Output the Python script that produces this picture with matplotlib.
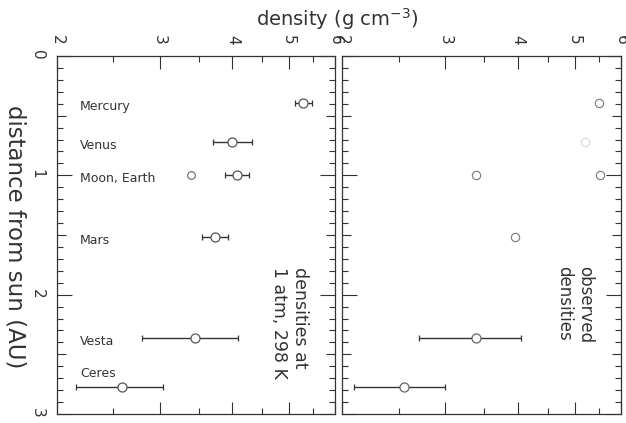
import numpy as np
import matplotlib
matplotlib.use("Agg")
import matplotlib.pyplot as plt
from matplotlib.ticker import FixedLocator, NullFormatter, FuncFormatter

# distance from sun (AU)
planetas = ['Mercury', 'Venus', 'Moon, Earth', 'Mars', 'Vesta', 'Ceres']
distancia = [0.39, 0.72, 1.00, 1.52, 2.36, 2.77]

# densidades a 1 atm, 298 K (panel izquierdo)
dens_298 = [5.28, 3.99, 4.07, 3.73, 3.45, 2.59]
dens_298_min = [5.12, 3.71, 3.88, 3.55, 2.80, 2.16]
dens_298_max = [5.48, 4.32, 4.27, 3.93, 4.09, 3.04]
luna_298 = 3.40

# densidades observadas (panel derecho)
dist_obs = [0.39, 1.00, 1.52]
dens_obs = [5.50, 5.52, 3.95]
venus_obs = 5.21
luna_obs = 3.39
dist_ast = [2.36, 2.77]
dens_ast = [3.39, 2.55]
dens_ast_min = [2.71, 2.10]
dens_ast_max = [4.05, 3.00]

gris = '#333333'
plt.rcParams['font.family'] = ['DejaVu Sans']
plt.rcParams['text.color'] = gris

fig = plt.figure(figsize=(6.26, 4.23), dpi=100)
ax1 = fig.add_axes([57/626, 9/423, 278/626, 358/423])
ax2 = fig.add_axes([342/626, 9/423, 279/626, 358/423])


def formato(ax, etiquetas_y):
    ax.set_xscale('log')
    ax.set_xlim(2, 6)
    ax.set_ylim(3, 0)
    ax.xaxis.set_major_locator(FixedLocator([2, 3, 4, 5, 6]))
    ax.xaxis.set_minor_locator(FixedLocator([2.5, 3.5, 4.5, 5.5]))
    ax.xaxis.set_major_formatter(FuncFormatter(lambda v, p: '%d' % round(v)))
    ax.xaxis.set_minor_formatter(NullFormatter())
    ax.yaxis.set_major_locator(FixedLocator(np.arange(0, 3.01, 0.5)))
    ax.yaxis.set_minor_locator(FixedLocator(np.arange(0, 3.01, 0.1)))
    ax.yaxis.set_major_formatter(FuncFormatter(
        lambda v, p: ('%d' % round(v)) if abs(v - round(v)) < 1e-6 else ''))
    ax.tick_params(which='both', direction='in', top=True, bottom=True,
                   left=True, right=True, labeltop=True, labelbottom=False,
                   labelleft=etiquetas_y, labelright=False, color=gris,
                   width=0.8, labelcolor=gris)
    ax.tick_params(axis='x', which='major', length=9, pad=8,
                   labelsize=11, labelrotation=-90)
    ax.tick_params(axis='x', which='minor', length=4.5)
    ax.tick_params(axis='y', which='major', length=11, pad=9,
                   labelsize=11, labelrotation=-90)
    ax.tick_params(axis='y', which='minor', length=4)
    for t, loc in zip(ax.yaxis.get_major_ticks(), ax.yaxis.get_majorticklocs()):
        if abs(loc - round(loc)) > 1e-6:
            t.tick1line.set_markersize(6.5)
            t.tick2line.set_markersize(6.5)
    for s in ax.spines.values():
        s.set_color(gris)
        s.set_linewidth(0.9)


formato(ax1, True)
formato(ax2, False)

# panel izquierdo
err_bajo = np.array(dens_298) - np.array(dens_298_min)
err_alto = np.array(dens_298_max) - np.array(dens_298)
ax1.errorbar(dens_298, distancia, xerr=[err_bajo, err_alto], fmt='o',
             ms=6.5, mfc='white', mec='#555555', mew=0.9, ecolor=gris,
             elinewidth=1.0, capsize=2.3, capthick=1.0, zorder=3)
ax1.plot([luna_298], [distancia[2]], 'o', ms=5.5, mfc='white', mec='#666666', mew=0.8)
for nombre, d in zip(planetas, distancia):
    dy = -0.11 if nombre == 'Ceres' else 0.03
    ax1.text(0.083, d + dy, nombre, transform=ax1.get_yaxis_transform(),
             fontsize=9, ha='left', va='center', color=gris)
ax1.text(0.835, 2.24, 'densities at\n1 atm, 298 K', transform=ax1.get_yaxis_transform(),
         rotation=-90, ha='center', va='center', multialignment='left',
         fontsize=12.5, color=gris)

# panel derecho
ax2.plot(dens_obs, dist_obs, 'o', ms=6, mfc='white', mec='#777777', mew=0.8)
ax2.plot([luna_obs], [distancia[2]], 'o', ms=6, mfc='white', mec='#777777', mew=0.8)
ax2.plot([venus_obs], [distancia[1]], 'o', ms=6, mfc='none', mec='#cccccc', mew=0.6)
a_bajo = np.array(dens_ast) - np.array(dens_ast_min)
a_alto = np.array(dens_ast_max) - np.array(dens_ast)
ax2.errorbar(dens_ast, dist_ast, xerr=[a_bajo, a_alto], fmt='o',
             ms=6.5, mfc='white', mec='#666666', mew=0.9, ecolor=gris,
             elinewidth=1.0, capsize=2.3, capthick=1.0, zorder=3)
ax2.text(0.835, 2.08, 'observed\ndensities', transform=ax2.get_yaxis_transform(),
         rotation=-90, ha='center', va='center', multialignment='left',
         fontsize=12, color=gris)

fig.text(337/626, 1 - 19/423, 'density (g cm$^{-3}$)', ha='center', va='center',
         fontsize=14, color=gris)
fig.text(15/626, 1 - 237/423, 'distance from sun (AU)', ha='center', va='center',
         rotation=-90, fontsize=16.5, color=gris)

fig.savefig('out.png', dpi=100)
